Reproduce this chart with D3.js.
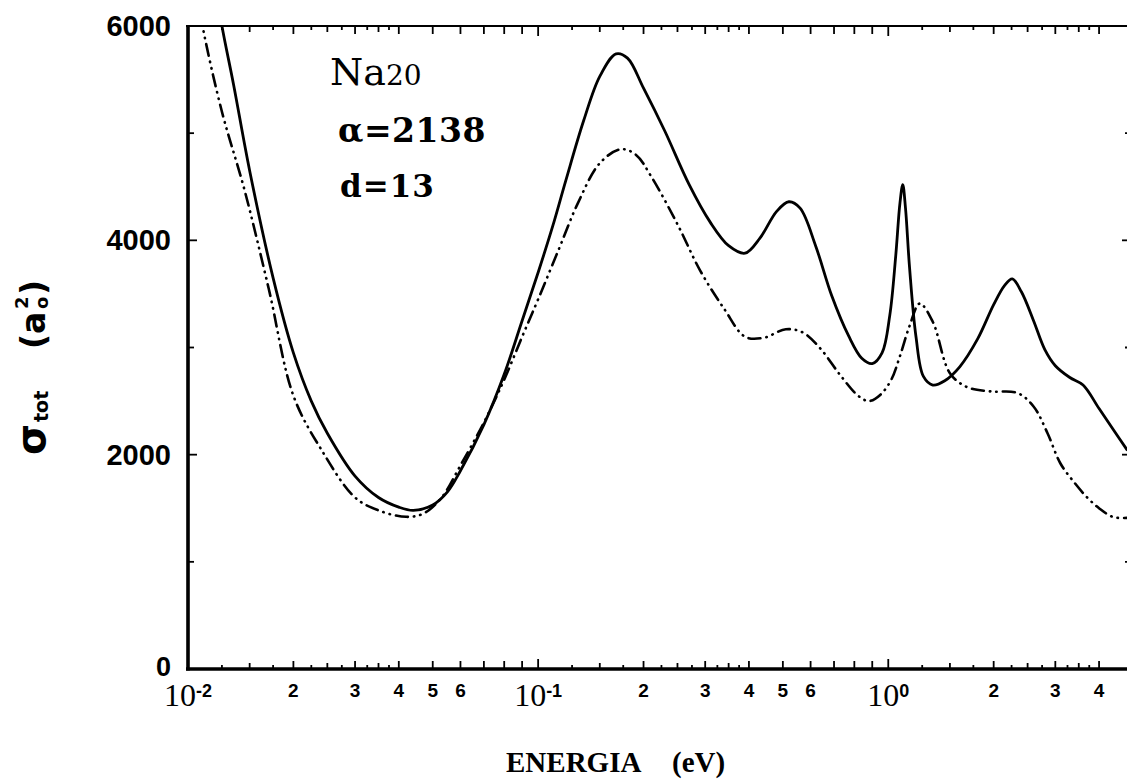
<!DOCTYPE html>
<html>
<head>
<meta charset="utf-8">
<script src="https://cdn.jsdelivr.net/npm/d3@7"></script>
<style>
  html, body { margin: 0; padding: 0; background: #fff; }
  svg { display: block; }
</style>
</head>
<body>
<svg id="chart" width="1127" height="782"></svg>
<script>
// ---- data (energy in eV, cross section in a0^2) ----
const solidE = [0.0118, 0.0125, 0.0135, 0.015, 0.0175, 0.02, 0.0225, 0.025, 0.03, 0.035, 0.04, 0.044, 0.05, 0.055, 0.06, 0.07, 0.08, 0.09, 0.1, 0.11, 0.12, 0.135, 0.15, 0.167, 0.18, 0.2, 0.23, 0.27, 0.31, 0.35, 0.39, 0.43, 0.48, 0.52, 0.56, 0.62, 0.69, 0.77, 0.84, 0.9, 0.96, 1.01, 1.05, 1.08, 1.1, 1.12, 1.15, 1.2, 1.26, 1.34, 1.45, 1.6, 1.8, 2.0, 2.15, 2.26, 2.4, 2.6, 2.8, 3.0, 3.3, 3.6, 4.0, 4.4, 4.82];
const solidS = [6500, 6000, 5450, 4650, 3650, 2950, 2500, 2200, 1800, 1600, 1510, 1480, 1530, 1650, 1850, 2280, 2750, 3250, 3700, 4130, 4560, 5120, 5530, 5740, 5700, 5420, 5020, 4520, 4170, 3950, 3880, 4020, 4270, 4360, 4300, 3950, 3480, 3110, 2900, 2850, 2950, 3300, 3850, 4350, 4520, 4300, 3750, 3100, 2730, 2650, 2690, 2820, 3080, 3400, 3580, 3640, 3520, 3250, 2980, 2830, 2720, 2650, 2430, 2230, 2040];
const dashE = [0.0105, 0.011, 0.0125, 0.0145, 0.017, 0.02, 0.024, 0.03, 0.035, 0.042, 0.047, 0.053, 0.06, 0.07, 0.08, 0.09, 0.1, 0.115, 0.13, 0.15, 0.172, 0.19, 0.21, 0.25, 0.29, 0.34, 0.39, 0.44, 0.51, 0.57, 0.64, 0.73, 0.82, 0.88, 0.95, 1.02, 1.08, 1.15, 1.23, 1.34, 1.5, 1.68, 1.96, 2.34, 2.6, 2.85, 3.1, 3.4, 3.7, 4.0, 4.39, 4.82];
const dashS = [6400, 6000, 5200, 4470, 3550, 2550, 2050, 1600, 1480, 1420, 1450, 1600, 1900, 2300, 2700, 3100, 3450, 3930, 4350, 4720, 4850, 4800, 4600, 4150, 3720, 3360, 3100, 3090, 3170, 3140, 2990, 2740, 2550, 2500, 2560, 2700, 2920, 3200, 3410, 3240, 2760, 2630, 2590, 2575, 2450, 2200, 1920, 1740, 1600, 1500, 1418, 1410];

const yTicks = [0, 2000, 4000, 6000];
const yMinorTicks = [1000, 3000, 5000];
const decades = [0.01, 0.1, 1];
const decadeExp = ["-2", "-1", "0"];
const minorMult = [1.25, 1.5, 1.75, 2, 2.25, 2.5, 2.75, 3, 3.25, 3.5, 3.75, 4, 5, 6, 7, 8, 9];
const labelMult = [2, 3, 4, 5, 6];

// ---- layout ----
const L = 188, R = 1133, T = 26, B = 669;
const svg = d3.select("#chart");
const x = d3.scaleLog().domain([0.01, 5]).range([L, R]);
const y = d3.scaleLinear().domain([0, 6000]).range([B, T]);

svg.append("defs").append("clipPath").attr("id", "clip")
  .append("rect").attr("x", L).attr("y", T).attr("width", R - L).attr("height", B - T);

const xTickVals = [];
decades.forEach(d => {
  xTickVals.push({v: d, len: 10});
  minorMult.forEach(m => {
    const v = d * m;
    if (v <= 5) {
      let len = 4;
      if (Number.isInteger(m)) len = 8;
      else if (m === 1.5 || m === 2.5 || m === 3.5) len = 6;
      xTickVals.push({v, len});
    }
  });
});

const g = svg.append("g");
g.selectAll(".xb").data(xTickVals).enter().append("line")
  .attr("x1", d => x(d.v)).attr("x2", d => x(d.v))
  .attr("y1", B).attr("y2", d => B - d.len)
  .attr("stroke", "#000").attr("stroke-width", 1.8);
g.selectAll(".xt").data(xTickVals).enter().append("line")
  .attr("x1", d => x(d.v)).attr("x2", d => x(d.v))
  .attr("y1", T).attr("y2", d => T + d.len)
  .attr("stroke", "#000").attr("stroke-width", 1.8);

const yAll = yTicks.map(v => ({v, len: 9})).concat(yMinorTicks.map(v => ({v, len: 6})));
g.selectAll(".yl").data(yAll).enter().append("line")
  .attr("x1", L).attr("x2", d => L + d.len)
  .attr("y1", d => y(d.v)).attr("y2", d => y(d.v))
  .attr("stroke", "#000").attr("stroke-width", 1.8);
g.selectAll(".yr").data(yAll).enter().append("line")
  .attr("x1", R).attr("x2", d => R - d.len - 2)
  .attr("y1", d => y(d.v)).attr("y2", d => y(d.v))
  .attr("stroke", "#000").attr("stroke-width", 1.8);

// frame
g.append("line").attr("x1", L - 2).attr("x2", R).attr("y1", T).attr("y2", T)
  .attr("stroke", "#000").attr("stroke-width", 2.2);
g.append("line").attr("x1", L - 2).attr("x2", R).attr("y1", B).attr("y2", B)
  .attr("stroke", "#000").attr("stroke-width", 3.6);
g.append("line").attr("x1", L).attr("x2", L).attr("y1", T - 1).attr("y2", B + 1.5)
  .attr("stroke", "#000").attr("stroke-width", 3.6);
g.append("line").attr("x1", R).attr("x2", R).attr("y1", T).attr("y2", B)
  .attr("stroke", "#000").attr("stroke-width", 2.2);

// y tick labels
svg.selectAll(".ylab").data(yTicks).enter().append("text")
  .attr("x", 171).attr("y", d => d === 0 ? y(d) + 7 : y(d) + 10)
  .attr("text-anchor", "end")
  .attr("font-family", "Liberation Sans, Arial, sans-serif")
  .attr("font-weight", "bold").attr("font-size", d => d === 0 ? 27 : 29)
  .text(d => d);

// x decade labels: 10^n
decades.forEach((d, i) => {
  const t = svg.append("text")
    .attr("x", x(d)).attr("y", 706)
    .attr("text-anchor", "middle");
  t.append("tspan").attr("font-family", "Liberation Serif, Times New Roman, serif")
    .attr("font-size", 32).text("10");
  t.append("tspan").attr("font-family", "Liberation Sans, Arial, sans-serif")
    .attr("font-weight", "bold").attr("font-size", 18).attr("dy", -9).text(decadeExp[i]);
});
const multLabels = [];
decades.forEach(d => labelMult.forEach(m => { if (d * m < 5) multLabels.push({v: d * m, m}); }));
svg.selectAll(".xm").data(multLabels).enter().append("text")
  .attr("x", d => x(d.v)).attr("y", 697)
  .attr("text-anchor", "middle")
  .attr("font-family", "Liberation Sans, Arial, sans-serif")
  .attr("font-weight", "bold").attr("font-size", 19)
  .text(d => d.m);

// axis titles
const xt = svg.append("text").attr("y", 772)
  .attr("font-family", "Liberation Serif, Times New Roman, serif")
  .attr("font-weight", "bold").attr("font-size", 29);
xt.append("tspan").attr("x", 506).text("ENERGIA");
xt.append("tspan").attr("x", 672).text("(eV)");

const yt = svg.append("text").attr("transform", "translate(45,455) rotate(-90)")
  .attr("font-family", "DejaVu Sans, sans-serif").attr("font-weight", "bold");
yt.append("tspan").attr("x", 0).attr("y", 0).attr("font-size", 40).text("σ");
yt.append("tspan").attr("x", 33).attr("y", 3).attr("font-size", 19).text("tot");
yt.append("tspan").attr("x", 106).attr("y", 0).attr("font-size", 33).text("(a");
yt.append("tspan").attr("x", 146).attr("y", 3).attr("font-size", 18).text("o");
yt.append("tspan").attr("x", 146).attr("y", -17).attr("font-size", 18).text("2");
yt.append("tspan").attr("x", 160).attr("y", 0).attr("font-size", 33).text(")");

// annotations
const ann = svg.append("g").attr("font-family", "DejaVu Serif, Times New Roman, serif");
const na = ann.append("text").attr("x", 330).attr("y", 85);
na.append("tspan").attr("font-size", 38).text("Na");
na.append("tspan").attr("font-size", 28).text("20");
ann.append("text").attr("x", 338).attr("y", 142).attr("font-size", 33)
  .attr("font-weight", "bold").attr("letter-spacing", 0.5).text("α=2138");
ann.append("text").attr("x", 340).attr("y", 197).attr("font-size", 31)
  .attr("font-weight", "bold").attr("letter-spacing", 1).text("d=13");

// curves
const line = d3.line().x(d => x(d[0])).y(d => y(d[1])).curve(d3.curveCatmullRom.alpha(0.5));
const curves = svg.append("g").attr("clip-path", "url(#clip)");
curves.append("path").datum(d3.zip(dashE, dashS))
  .attr("d", line).attr("fill", "none").attr("stroke", "#000")
  .attr("stroke-width", 2.6).attr("stroke-linecap", "round")
  .attr("stroke-dasharray", "12,6,0.5,6,0.5,6");
curves.append("path").datum(d3.zip(solidE, solidS))
  .attr("d", line).attr("fill", "none").attr("stroke", "#000")
  .attr("stroke-width", 2.8);
</script>
</body>
</html>
